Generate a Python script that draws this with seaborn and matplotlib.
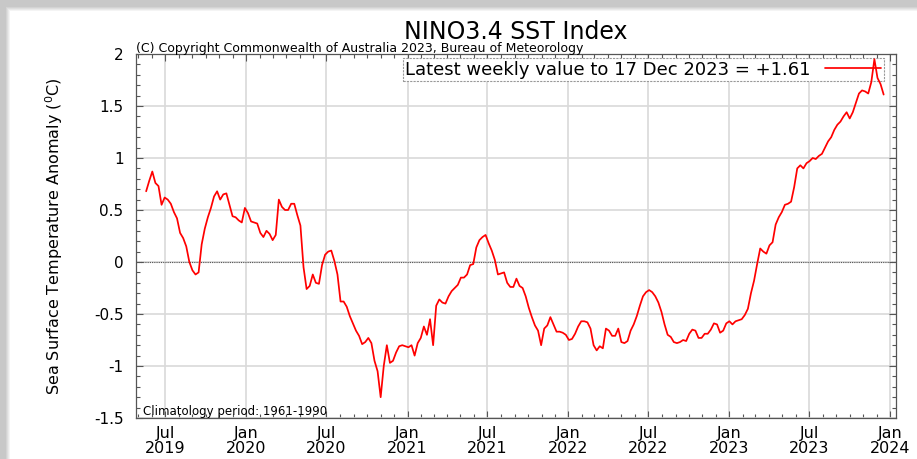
import pandas as pd
import matplotlib
matplotlib.use("Agg")
import matplotlib.pyplot as plt
import matplotlib.dates as mdates
from matplotlib.ticker import FuncFormatter, MultipleLocator
from matplotlib.patches import Rectangle
import seaborn as sns

# Weekly NINO3.4 SST anomalies (deg C), weeks ending on Sundays
last_week = "2023-12-17"
sst_2019 = [0.68, 0.78, 0.87, 0.76, 0.73, 0.55, 0.62, 0.60, 0.56, 0.48,
            0.42, 0.28, 0.23, 0.15, 0.00, -0.08, -0.12, -0.10, 0.17, 0.32,
            0.43, 0.52, 0.63, 0.68, 0.60, 0.65, 0.66, 0.55, 0.44, 0.43,
            0.40, 0.38, 0.52]
sst_2020 = [0.47, 0.39, 0.38, 0.37, 0.28, 0.24, 0.30, 0.27, 0.21, 0.26,
            0.60, 0.53, 0.50, 0.50, 0.56, 0.56, 0.45, 0.35, -0.05, -0.26,
            -0.23, -0.12, -0.20, -0.21, -0.03, 0.07, 0.10, 0.11, 0.01, -0.12,
            -0.38, -0.38, -0.43, -0.52, -0.59, -0.66, -0.71, -0.79, -0.77, -0.73,
            -0.78, -0.95, -1.05, -1.30, -1.00, -0.80, -0.97, -0.95, -0.87, -0.81,
            -0.80, -0.81]
sst_2021 = [-0.82, -0.80, -0.90, -0.78, -0.73, -0.62, -0.70, -0.55, -0.80, -0.42,
            -0.36, -0.39, -0.40, -0.33, -0.28, -0.25, -0.22, -0.15, -0.15, -0.12,
            -0.03, -0.02, 0.14, 0.21, 0.24, 0.26, 0.18, 0.11, 0.02, -0.12,
            -0.11, -0.10, -0.20, -0.24, -0.24, -0.16, -0.23, -0.25, -0.33, -0.44,
            -0.53, -0.61, -0.66, -0.80, -0.64, -0.61, -0.53, -0.60, -0.67, -0.67,
            -0.68, -0.70]
sst_2022 = [-0.75, -0.74, -0.69, -0.62, -0.57, -0.57, -0.58, -0.64, -0.80, -0.85,
            -0.81, -0.83, -0.64, -0.66, -0.71, -0.71, -0.64, -0.77, -0.78, -0.76,
            -0.66, -0.60, -0.52, -0.42, -0.33, -0.29, -0.27, -0.29, -0.33, -0.39,
            -0.48, -0.60, -0.70, -0.72, -0.77, -0.78, -0.77, -0.75, -0.76, -0.69,
            -0.65, -0.66, -0.73, -0.73, -0.69, -0.69, -0.65, -0.59, -0.60, -0.68,
            -0.66, -0.59]
sst_2023 = [-0.57, -0.60, -0.57, -0.56, -0.55, -0.51, -0.45, -0.30, -0.18, -0.02,
            0.13, 0.10, 0.08, 0.16, 0.19, 0.36, 0.43, 0.48, 0.55, 0.56,
            0.58, 0.72, 0.90, 0.93, 0.90, 0.95, 0.97, 1.00, 0.99, 1.02,
            1.04, 1.10, 1.16, 1.20, 1.27, 1.32, 1.35, 1.40, 1.44, 1.38,
            1.44, 1.53, 1.62, 1.65, 1.64, 1.62, 1.73, 1.95, 1.77, 1.71,
            1.61]

title = "NINO3.4 SST Index"
copyright_note = "(C) Copyright Commonwealth of Australia 2023, Bureau of Meteorology"
clim_note = "Climatology period: 1961-1990"
y_label = "Sea Surface Temperature Anomaly ($^0$C)"

values = sst_2019 + sst_2020 + sst_2021 + sst_2022 + sst_2023
weeks = pd.date_range(end=last_week, periods=len(values), freq="W-SUN")
df = pd.DataFrame({"week": weeks, "anomaly": values})
latest = f"Latest weekly value to {weeks[-1]:%d %b %Y} = {values[-1]:+.2f}"

sns.set_style("ticks")
plt.rcParams["font.family"] = ["DejaVu Sans"]
plt.rcParams["axes.unicode_minus"] = False
plt.rcParams["text.color"] = "black"
plt.rcParams["axes.labelcolor"] = "black"

W, H = 917, 459
fig = plt.figure(figsize=(W / 100, H / 100), dpi=100)
fig.patch.set_facecolor("#c8c8c8")

# soft screenshot shadow on the top and left edges
for k, shade in enumerate(["#d3d3d3", "#dedede", "#e9e9e9", "#f4f4f4", "white"]):
    off = 6 + k
    fig.add_artist(Rectangle((off / W, 0), 1 - off / W, 1 - (off + 1) / H,
                             transform=fig.transFigure, facecolor=shade,
                             edgecolor="none", zorder=-10 + k))

ax = fig.add_axes([136 / W, 41 / H, 760 / W, 364 / H])
ax.set_facecolor("white")

sns.lineplot(data=df, x="week", y="anomaly", color="red", lw=1.25,
             label=latest, ax=ax, zorder=3)

ax.set_xlim(pd.Timestamp("2019-04-26"), pd.Timestamp("2024-01-14"))
ax.set_ylim(-1.5, 2)
ax.xaxis.set_major_locator(mdates.MonthLocator(bymonth=[1, 7]))
ax.xaxis.set_minor_locator(mdates.MonthLocator())
ax.xaxis.set_major_formatter(mdates.DateFormatter("%b\n%Y"))
ax.yaxis.set_major_locator(MultipleLocator(0.5))
ax.yaxis.set_minor_locator(MultipleLocator(0.1))
ax.yaxis.set_major_formatter(FuncFormatter(lambda v, pos: f"{v:g}"))

ax.grid(True, which="major", color="#d9d9d9", lw=1.2)
ax.axhline(0, color="#555555", lw=0.8, ls=(0, (1, 1)), zorder=1.5)

for side in ax.spines.values():
    side.set_color("#555555")
    side.set_linewidth(0.9)

ax.tick_params(which="both", direction="in", top=True, right=True,
               color="#555555", width=0.8, labelcolor="black")
ax.tick_params(which="major", length=5)
ax.tick_params(which="minor", length=3)
ax.tick_params(axis="x", which="major", labelsize=11.5, pad=6)
ax.tick_params(axis="y", which="major", labelsize=11, pad=9)

ax.set_xlabel("")
ax.set_ylabel(y_label, fontsize=11.5)
ax.yaxis.set_label_coords(-0.094, 0.5)

ax.set_title(title, fontsize=17, pad=11, color="black")
ax.text(0.0, 1.0055, copyright_note, transform=ax.transAxes, fontsize=9,
        ha="left", va="baseline")
ax.text(0.009, 0.009, clim_note, transform=ax.transAxes, fontsize=8.5,
        ha="left", va="baseline")

leg = ax.legend(loc="upper right", bbox_to_anchor=(0.9842, 0.989),
                markerfirst=False, frameon=True, fancybox=False, framealpha=1,
                edgecolor="#999999", fontsize=13, handlelength=3.1,
                handletextpad=0.8, borderpad=0.15, borderaxespad=0,
                labelcolor="black")
leg.get_frame().set_linewidth(0.8)
leg.get_frame().set_linestyle((0, (2, 1)))
leg.set_zorder(2.5)

# tighten the two-line month/year tick labels
fig.canvas.draw()
plt.setp(ax.get_xticklabels(), linespacing=0.95)

fig.savefig("out.png", dpi=100, facecolor=fig.get_facecolor())
